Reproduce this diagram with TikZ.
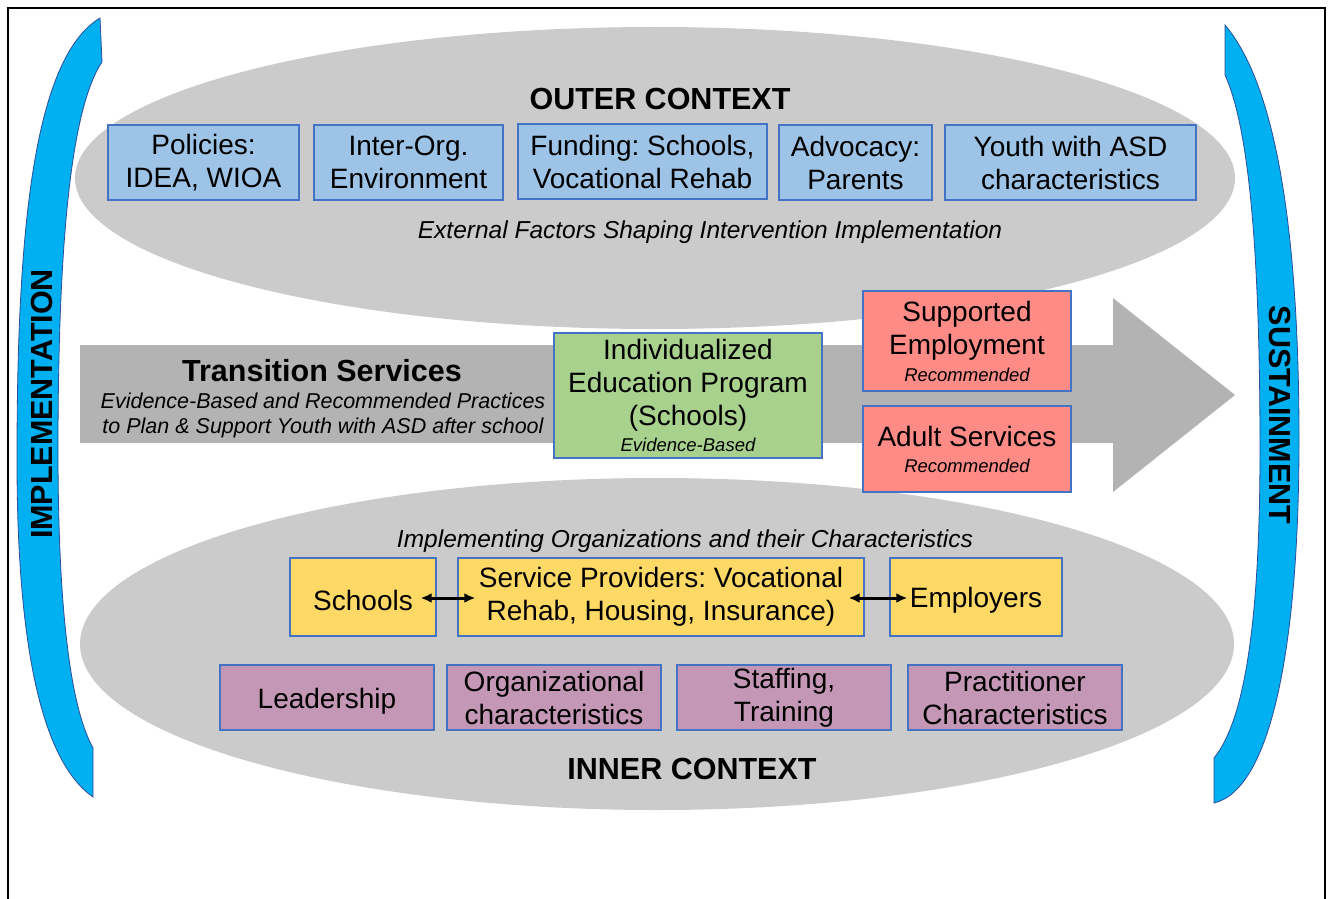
\documentclass[tikz,border=0pt]{standalone}
\usepackage{fontspec}
\setmainfont{Liberation Sans}
\usetikzlibrary{arrows.meta}

\definecolor{ellgray}{HTML}{CBCBCB}
\definecolor{arrowgray}{HTML}{B3B3B3}
\definecolor{bluefill}{HTML}{9DC3E6}
\definecolor{greenfill}{HTML}{A9D18E}
\definecolor{redfill}{HTML}{FF8B86}
\definecolor{yellowfill}{HTML}{FFD966}
\definecolor{purplefill}{HTML}{C497B7}
\definecolor{boxedge}{HTML}{4472C4}
\definecolor{bracketblue}{HTML}{00B0F0}
\definecolor{bracketedge}{HTML}{2E4D9B}

\newcommand\smallnote[1]{{\fontsize{18.5}{20}\selectfont\itshape #1}}

\begin{document}
\frenchspacing
\begin{tikzpicture}[x=1pt,y=-1pt,
  box/.style={draw=boxedge, line width=1.4, inner sep=0pt, align=center,
    font=\fontsize{28}{33}\selectfont, text=black,
    execute at begin node={\rule{0pt}{27pt}}},
  heading/.style={font=\fontsize{30.5}{34}\selectfont\bfseries, inner sep=0pt},
  caption/.style={font=\fontsize{24.5}{28}\selectfont\itshape, inner sep=0pt},
  bracket/.style={fill=bracketblue, draw=bracketedge, line width=0.8},
  link/.style={{Latex[length=11pt,width=10pt]}-{Latex[length=11pt,width=10pt]}, line width=3}
]
\clip (0,0) rectangle (1333,899);
\fill[white] (0,0) rectangle (1333,899);
% frame (open at the bottom of the page)
\draw[line width=2.2] (8,8) rectangle (1325,930);

% context ellipses
\fill[ellgray] (655,178) ellipse [x radius=580, y radius=151];
\fill[ellgray] (657,644) ellipse [x radius=577, y radius=166];

% transition arrow
\fill[arrowgray] (80,345) -- (1113,345) -- (1113,298) -- (1235,395)
  -- (1113,492) -- (1113,443) -- (80,443) -- cycle;

% side brackets
\path[bracket] (100,18) -- (102,62) .. controls (70,110) and (58,250) .. (58,450)
  .. controls (58,620) and (72,710) .. (93,748) -- (93,797)
  .. controls (40,760) and (17,640) .. (17,460)
  .. controls (17,250) and (30,60) .. (100,18) -- cycle;
\path[bracket] (1225,25) -- (1225,75) .. controls (1250,130) and (1260,260) .. (1260,450)
  .. controls (1260,620) and (1245,720) .. (1214,758) -- (1214,803)
  .. controls (1270,790) and (1299,650) .. (1299,440)
  .. controls (1299,250) and (1280,90) .. (1225,25) -- cycle;
\node[heading, rotate=90] (impl) at (42,404) {IMPLEMENTATION};
\node[heading, rotate=-90] (sust) at (1280,415) {SUSTAINMENT};

% outer context
\node[heading] (outer) at (660,99) {OUTER CONTEXT};
\node[box, fill=bluefill, minimum width=191, minimum height=75] (pol) at (203.5,162.5) {Policies:\\IDEA, WIOA};
\node[box, fill=bluefill, minimum width=189, minimum height=75] (inter) at (408.5,162.5) {Inter-Org.\\Environment};
\node[box, fill=bluefill, minimum width=249, minimum height=75] (fund) at (642.5,161.5) {Funding: Schools,\\Vocational Rehab};
\node[box, fill=bluefill, minimum width=153, minimum height=75] (adv) at (855.5,162.5) {Advocacy:\\Parents};
\node[box, fill=bluefill, minimum width=251, minimum height=75] (youth) at (1070.5,162.5) {Youth with ASD\\characteristics};
\node[caption] (ext) at (710,232) {External Factors Shaping Intervention Implementation};

% transition services
\node[heading] (trans) at (322,371) {Transition Services};
\node[inner sep=0pt, align=center, font=\fontsize{21.5}{25}\selectfont\itshape] (transsub) at (323,415.5)
  {Evidence-Based and Recommended Practices\\to Plan \& Support Youth with ASD after school};
\node[box, fill=greenfill, minimum width=268, minimum height=125] (iep) at (688,395.5)
  {Individualized\\Education Program\\(Schools)\\[-7pt]\smallnote{Evidence-Based}};
\node[box, fill=redfill, minimum width=208, minimum height=100] (semp) at (967,341)
  {Supported\\Employment\\[-6pt]\smallnote{Recommended}};
\node[box, fill=redfill, minimum width=208, minimum height=86] (adult) at (967,449)
  {Adult Services\\[-7pt]\smallnote{Recommended}};

% inner context
\node[caption] (implorg) at (685,541.5) {Implementing Organizations and their Characteristics};
\node[box, fill=yellowfill, minimum width=146, minimum height=78] (schools) at (363,597) {Schools};
\node[box, fill=yellowfill, minimum width=406, minimum height=78] (prov) at (661,597)
  {Service Providers: Vocational\\Rehab, Housing, Insurance)};
\node[box, fill=yellowfill, minimum width=172, minimum height=78] (emp) at (976,597) {Employers};
\draw[link] ([xshift=-16pt,yshift=-1pt]schools.east) -- ([xshift=18pt,yshift=-1pt]prov.west);
\draw[link] ([xshift=-16pt,yshift=-1pt]prov.east) -- ([xshift=18pt,yshift=-1pt]emp.west);

\node[box, fill=purplefill, minimum width=214, minimum height=65] (lead) at (327,697.5) {Leadership};
\node[box, fill=purplefill, minimum width=214, minimum height=65] (org) at (554,697.5) {Organizational\\characteristics};
\node[box, fill=purplefill, minimum width=214, minimum height=65] (staff) at (784,697.5) {Staffing,\\Training};
\node[box, fill=purplefill, minimum width=214, minimum height=65] (prac) at (1015,697.5) {Practitioner\\Characteristics};
\node[heading] (inner) at (692,769) {INNER CONTEXT};
\end{tikzpicture}
\end{document}
